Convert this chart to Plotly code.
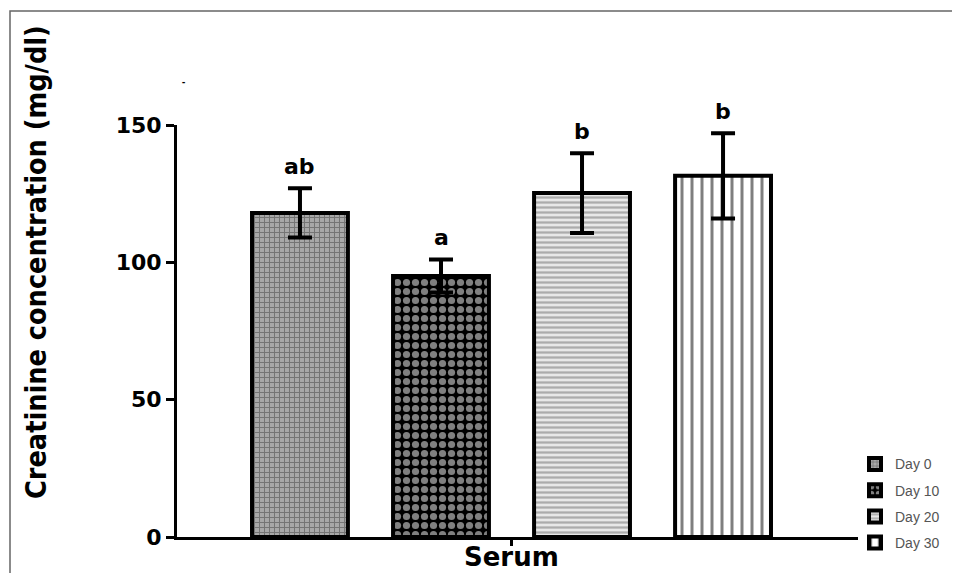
import plotly.graph_objects as go

days = ["Day 0", "Day 10", "Day 20", "Day 30"]
means = [118.0, 95.0, 125.2, 131.5]
errors = [9.0, 6.0, 14.5, 15.5]
letters = ["ab", "a", "b", "b"]
category = "Serum"
y_title = "Creatinine concentration (mg/dl)"
y_ticks = [0, 50, 100, 150]

patterns = [
    dict(shape="+", fgcolor="#404040", bgcolor="#a8a8a8", size=5, solidity=0.35),
    dict(shape=".", fgcolor="white", bgcolor="black", size=9, solidity=0.5),
    dict(shape="-", fgcolor="#707070", bgcolor="#e8e8e8", size=5, solidity=0.45),
    dict(shape="|", fgcolor="black", bgcolor="white", size=10, solidity=0.3),
]

# page offset (body margin 8px) -> plot area at page x 177..858, y 125..537
PW, PH = 681, 412
L, T = 177, 125


def px(x):
    return (x - L) / PW


def py(y):
    return (T + PH - y) / PH


fig = go.Figure()
for i, d in enumerate(days):
    fig.add_trace(go.Bar(
        x=[i], y=[means[i]], name=d, width=0.68, legendgroup=d,
        marker=dict(color="white", line=dict(color="black", width=4), pattern=patterns[i]),
        error_y=dict(type="data", array=[errors[i]], color="black", thickness=4, width=12),
    ))
    fig.add_annotation(x=i, y=means[i] + errors[i], text=f"<b>{letters[i]}</b>", showarrow=False,
                       yshift=22, font=dict(family="DejaVu Sans", size=22, color="black"))

fig.add_annotation(xref="paper", yref="paper", x=px(183), y=py(82), yshift=10, xshift=-3,
                   text="<b>-</b>", showarrow=False, font=dict(size=10, color="black"))

fig.add_annotation(xref="paper", yref="paper", x=px(37), y=py(262), textangle=-90,
                   text=f"<b>{y_title}</b>", showarrow=False, xanchor="center", yanchor="middle",
                   font=dict(family="DejaVu Sans Condensed, Liberation Sans Narrow, Arial", size=28.5, color="black"))

fig.add_annotation(x=1.5, xref="x", yref="paper", y=py(557), text=f"<b>{category}</b>",
                   showarrow=False, xanchor="center", yanchor="middle",
                   font=dict(family="DejaVu Sans", size=26, color="black"))

fig.add_shape(type="rect", xref="paper", yref="paper",
              x0=px(10), y0=-0.3, x1=1.3, y1=py(11),
              line=dict(color="#666666", width=1.5), layer="below")

fig.update_layout(
    width=952, height=565,
    margin=dict(l=L - 8, r=102, t=T - 8, b=36, autoexpand=False),
    plot_bgcolor="white", paper_bgcolor="white",
    showlegend=True,
    legend=dict(x=px(855), y=0.215, xanchor="left", yanchor="top",
                font=dict(family="Arial", size=14, color="#555555"),
                bgcolor="rgba(0,0,0,0)", itemwidth=30, tracegroupgap=5),
    xaxis=dict(range=[-0.872, 3.957], tickvals=[1.5], ticktext=[""],
               automargin=False,
               showline=True, linecolor="black", linewidth=3, ticks="outside",
               ticklen=6, tickwidth=3, tickcolor="black", showgrid=False, zeroline=False),
    yaxis=dict(range=[0, 150], tickvals=y_ticks, ticktext=[f"<b>{t}</b>" for t in y_ticks],
               automargin=False,
               showline=True, linecolor="black", linewidth=3, ticks="outside",
               ticklen=8, tickwidth=3, tickcolor="black", showgrid=False, zeroline=False,
               tickfont=dict(family="DejaVu Sans", size=22, color="black")),
)

fig.write_html("out.html")
